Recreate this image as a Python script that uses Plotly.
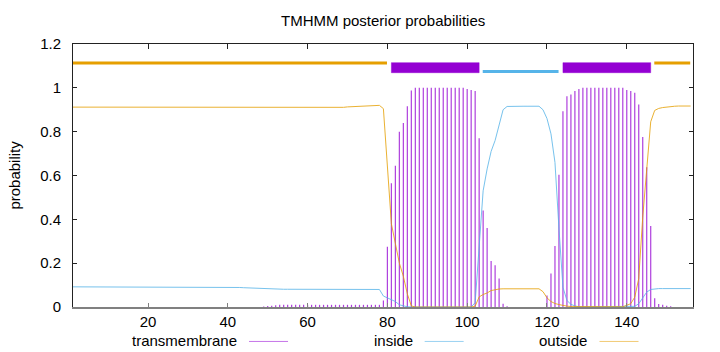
import plotly.graph_objects as go

residues = list(range(1, 157))

outside = (
    [0.912] * 43
    + [0.911, 0.910, 0.910, 0.909, 0.909, 0.909, 0.909]
    + [0.909] * 17
    + [0.910, 0.911, 0.913, 0.914, 0.916, 0.917, 0.918, 0.919, 0.920, 0.921, 0.920, 0.905, 0.63]
    + [0.38, 0.29, 0.20, 0.14, 0.06, 0.005]
    + [0.0] * 15
    + [0.004, 0.046, 0.057, 0.064, 0.075, 0.079, 0.082, 0.083, 0.083]
    + [0.083] * 8
    + [0.07, 0.042, 0.025, 0.016, 0.011, 0.006, 0.004]
    + [0.002] * 5
    + [0.001] * 9
    + [0.008, 0.015, 0.045, 0.13, 0.41, 0.64, 0.845, 0.897, 0.906, 0.910, 0.913, 0.915, 0.916]
    + [0.917] * 4
)

inside = (
    [0.092] * 41
    + [0.090, 0.089, 0.088, 0.087, 0.086, 0.085, 0.084, 0.083, 0.082]
    + [0.081] * 27
    + [0.080, 0.05, 0.042, 0.035, 0.025, 0.01, 0.004, 0.001]
    + [0.0] * 16
    + [0.02, 0.30, 0.53, 0.63, 0.71, 0.76, 0.83, 0.90, 0.915]
    + [0.916] * 8
    + [0.90, 0.86, 0.79, 0.66, 0.36, 0.09, 0.03, 0.012, 0.005, 0.001, 0.001, 0.001]
    + [0.0] * 11
    + [0.003, 0.015, 0.04, 0.068, 0.08, 0.083]
    + [0.084] * 9
)

transmembrane = (
    [0.0] * 48
    + [0.002, 0.004, 0.006, 0.008]
    + [0.01] * 26
    + [0.03, 0.275, 0.565, 0.645, 0.80, 0.84, 0.916, 0.988]
    + [1.0] * 13
    + [0.995, 0.99, 0.985, 0.77, 0.44, 0.36, 0.21, 0.19, 0.13, 0.015, 0.003]
    + [0.0] * 9
    + [0.053, 0.153, 0.278, 0.603, 0.893, 0.962, 0.97, 0.985, 0.995]
    + [1.0] * 11
    + [0.99, 0.985, 0.977, 0.924, 0.776, 0.638, 0.37, 0.04, 0.014, 0.01, 0.006, 0.003]
    + [0.0] * 5
)

# predicted topology: (kind, first residue, last residue)
regions = [
    ("outside", 1, 80),
    ("TMhelix", 81, 103),
    ("inside", 104, 123),
    ("TMhelix", 124, 146),
    ("outside", 147, 156),
]

x_ticks = [20, 40, 60, 80, 100, 120, 140]
y_ticks = [0, 0.2, 0.4, 0.6, 0.8, 1, 1.2]

legend_names = ["transmembrane", "inside", "outside"]

C_TM = "#9400d3"
C_IN = "#56b4e9"
C_OUT = "#e69f00"
FONT = "Liberation Sans, Arial, sans-serif"

fig = go.Figure()

# impulses (gnuplot "with impulses")
imp_x, imp_y = [], []
for r, v in zip(residues, transmembrane):
    if v > 0:
        imp_x += [r, r, None]
        imp_y += [0, v, None]
fig.add_trace(go.Scatter(
    x=imp_x, y=imp_y, mode="lines",
    line=dict(color=C_TM, width=1.2), opacity=0.75,
    showlegend=False, hoverinfo="skip",
))
fig.add_trace(go.Scatter(
    x=residues, y=inside, mode="lines", opacity=0.8,
    line=dict(color=C_IN, width=1), showlegend=False, hoverinfo="skip",
))
fig.add_trace(go.Scatter(
    x=residues, y=outside, mode="lines", opacity=0.8,
    line=dict(color=C_OUT, width=1), showlegend=False, hoverinfo="skip",
))
# invisible trace for top axis
fig.add_trace(go.Scatter(x=[], y=[], xaxis="x2", showlegend=False))

shapes = []
levels = {"outside": 1.113, "inside": 1.074}
for kind, a, b in regions:
    if kind == "TMhelix":
        shapes.append(dict(type="rect", xref="x", yref="y", x0=a, x1=b,
                           y0=1.069, y1=1.115, fillcolor=C_TM,
                           line=dict(color="rgba(148,0,211,0.45)", width=1)))
    else:
        col = C_OUT if kind == "outside" else C_IN
        shapes.append(dict(type="line", xref="x", yref="y", x0=a - 0.1, x1=b - 0.1,
                           y0=levels[kind], y1=levels[kind],
                           line=dict(color=col, width=3)))

# legend (gnuplot style: text then sample line)
legend_cols = ["rgba(148,0,211,0.55)", "rgba(86,180,233,0.6)", "rgba(230,159,0,0.55)"]
legend_text_right = [0.2677, 0.551, 0.833]
annotations = []
for name, col, xr in zip(legend_names, legend_cols, legend_text_right):
    annotations.append(dict(text=name, xref="paper", yref="paper", x=xr, y=-0.128,
                            xanchor="right", yanchor="middle", showarrow=False,
                            font=dict(family=FONT, size=15, color="#000")))
    shapes.append(dict(type="line", xref="paper", yref="paper", x0=xr + 0.0162,
                       x1=xr + 0.0791, y0=-0.131, y1=-0.131,
                       line=dict(color=col, width=1)))

annotations.append(dict(text="probability", xref="paper", yref="paper", x=-0.095, y=0.5,
                        textangle=-90, xanchor="center", yanchor="middle", showarrow=False,
                        font=dict(family=FONT, size=15, color="#000")))
annotations.append(dict(text="TMHMM posterior probabilities", xref="paper", yref="paper",
                        x=0.5, y=1.0 + (44 - 20) / 263, xanchor="center", yanchor="middle",
                        showarrow=False, font=dict(family=FONT, size=15, color="#000")))

fig.update_layout(
    width=720, height=352,
    margin=dict(l=73, r=27, t=44, b=45),
    paper_bgcolor="white", plot_bgcolor="white",
    font=dict(family=FONT, size=15, color="#000"),
    shapes=shapes, annotations=annotations,
    xaxis=dict(range=[1.2, 156.6], tickvals=x_ticks, ticks="inside", ticklen=4,
               tickcolor="#808080", showline=True, linecolor="#808080", linewidth=2,
               showgrid=False, zeroline=False, mirror=False, ticklabelstandoff=0),
    xaxis2=dict(range=[1.2, 156.6], overlaying="x", side="top", tickvals=x_ticks,
                ticks="inside", ticklen=5, tickcolor="#222", showline=True,
                linecolor="#222", linewidth=1, showticklabels=False, showgrid=False,
                zeroline=False),
    yaxis=dict(range=[0, 1.2], tickvals=y_ticks, ticks="inside", ticklen=4,
               tickcolor="#222", showline=True, linecolor="#222", linewidth=1,
               mirror="ticks", showgrid=False, zeroline=False, ticklabelstandoff=8),
)

fig.write_html("out.html")
